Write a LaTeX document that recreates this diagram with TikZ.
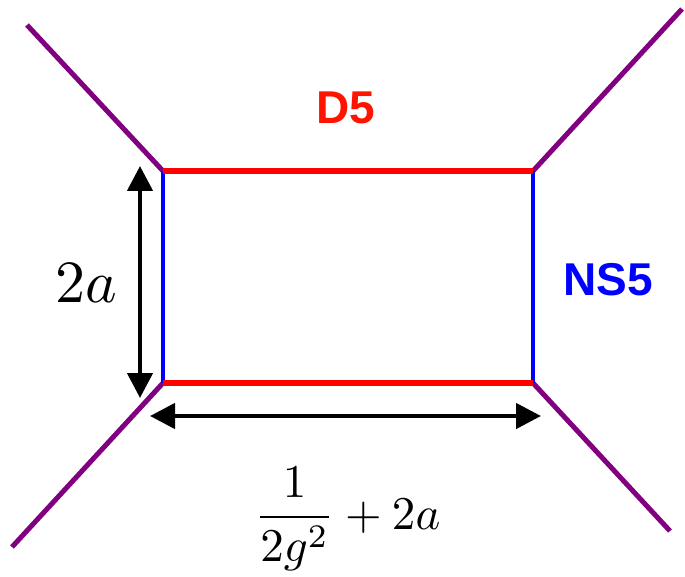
\documentclass[tikz,border=0pt]{standalone}
\usepackage{graphicx}
\usepackage{fontspec}
\newfontfamily\labfont{Liberation Sans}
\usetikzlibrary{arrows.meta}
\definecolor{dred}{RGB}{255,20,0}
\definecolor{dblue}{RGB}{0,0,255}
\definecolor{dpurple}{RGB}{128,0,128}
\tikzset{
  d5line/.style={draw=red, line width=6.5pt},
  ns5line/.style={draw=dblue, line width=4pt},
  legline/.style={draw=dpurple, line width=5pt},
  dimarrow/.style={draw=black, line width=4.5pt, {Triangle[width=25pt,length=25pt]}-{Triangle[width=25pt,length=25pt]}},
  branelabel/.style={font=\labfont\bfseries\fontsize{46}{50}\selectfont, inner sep=0pt},
}
\begin{document}
\begin{tikzpicture}[x=1pt,y=-1pt]
\useasboundingbox (0,0) rectangle (685,577);
% corners
\coordinate (tl) at (163,171);
\coordinate (tr) at (533,171);
\coordinate (bl) at (163,383);
\coordinate (br) at (533,383);
% leg ends
\coordinate (etl) at (27,25);
\coordinate (etr) at (682,9);
\coordinate (ebl) at (12,547);
\coordinate (ebr) at (670,531);
% arrow ends
\coordinate (vt) at (140,166);
\coordinate (vb) at (140,398);
\coordinate (hl) at (150,416);
\coordinate (hr) at (541,416);
% legs
\draw[legline] (etl) -- (tl);
\draw[legline] (etr) -- (tr);
\draw[legline] (ebl) -- (bl);
\draw[legline] (ebr) -- (br);
% NS5
\draw[ns5line] (tl) -- (bl);
\draw[ns5line] (tr) -- (br);
% D5
\draw[d5line] (tl) -- (tr);
\draw[d5line] (bl) -- (br);
% dimension arrows
\draw[dimarrow] (vt) -- (vb);
\draw[dimarrow] (hl) -- (hr);
% labels
\node[branelabel, text=dred] (d5) at (346,108) {D5};
\node[branelabel, text=dblue] (ns5) at (608,280) {NS5};
\node[anchor=base, inner sep=0pt] (h) at (86,302) {\scalebox{6.0}{$2a$}};
\node[anchor=base, inner sep=0pt] (w) at (347.5,529) {\scalebox{4.7}{$\displaystyle\frac{1}{2g^2}+2a$}};
\end{tikzpicture}
\end{document}
